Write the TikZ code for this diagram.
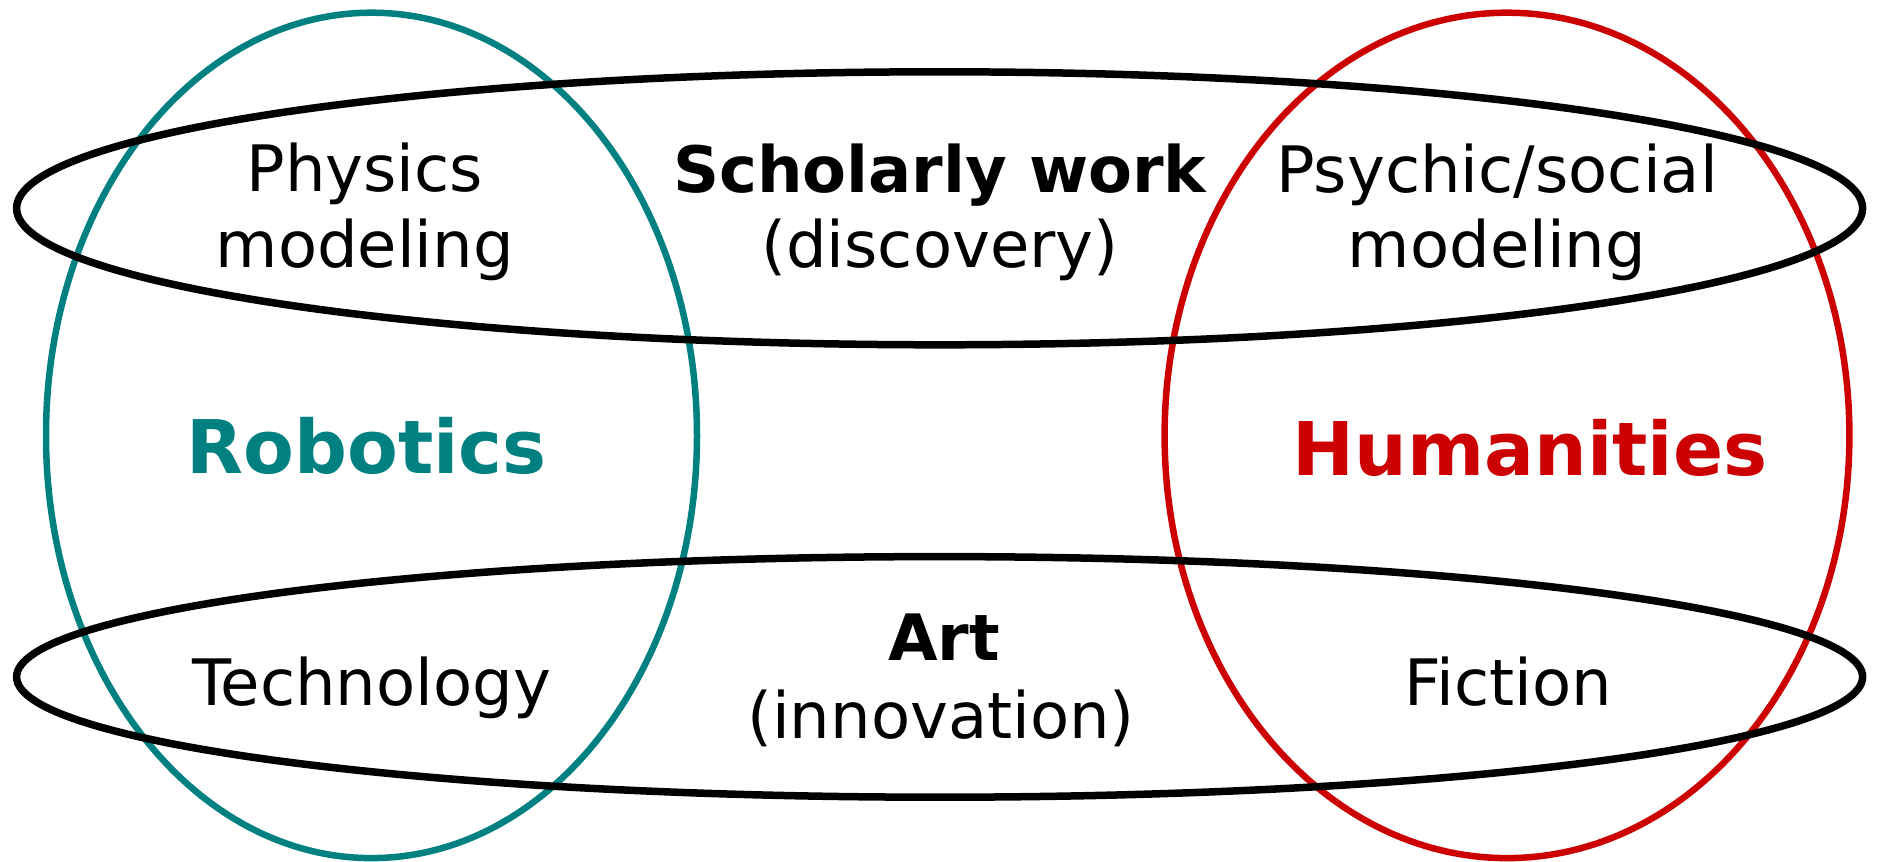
\documentclass[tikz,border=0pt]{standalone}
\usepackage{fontspec}
\setmainfont{DejaVu Sans}
\definecolor{robocol}{RGB}{0,128,128}
\definecolor{humcol}{RGB}{204,0,0}
\begin{document}
\begin{tikzpicture}[x=1pt,y=-1pt,
  lbl/.style={inner sep=0pt, anchor=base, font=\fontsize{64}{75.6}\selectfont},
  head/.style={lbl, font=\bfseries\fontsize{64}{75.6}\selectfont},
  big/.style={inner sep=0pt, anchor=base, font=\bfseries\fontsize{74}{88}\selectfont},
  ring/.style={line width=6.5pt},
  bring/.style={line width=7.5pt, draw=black}]
\useasboundingbox (0,0) rectangle (1877,862);
% field ellipses
\draw[ring, draw=robocol] (371.5,435.4) ellipse [x radius=325.5, y radius=422.7];
\draw[ring, draw=humcol] (1507,435.4) ellipse [x radius=342.4, y radius=422.7];
\draw[bring] (939.6,208.3) ellipse [x radius=923, y radius=136.5];
\draw[bring] (939.6,676.9) ellipse [x radius=923, y radius=120.3];
% texts
\node[lbl] (phys1) at (364.8,191.7) {Physics};
\node[lbl] (phys2) at (364.8,267.3) {modeling};
\node[head] (schol) at (939.8,192.7) {Scholarly work};
\node[lbl] (disc) at (939.8,267.3) {(discovery)};
\node[lbl] (psy1) at (1497,192.2) {Psychic/social};
\node[lbl] (psy2) at (1497,267.3) {modeling};
\node[big, text=robocol] (robo) at (366.7,473.5) {Robotics};
\node[big, text=humcol] (hum) at (1530,475) {Humanities};
\node[lbl] (tech) at (371.7,705) {Technology};
\node[head] (art) at (944,660) {Art};
\node[lbl] (innov) at (941,738) {(innovation)};
\node[lbl] (fict) at (1508,705) {Fiction};
\end{tikzpicture}
\end{document}
